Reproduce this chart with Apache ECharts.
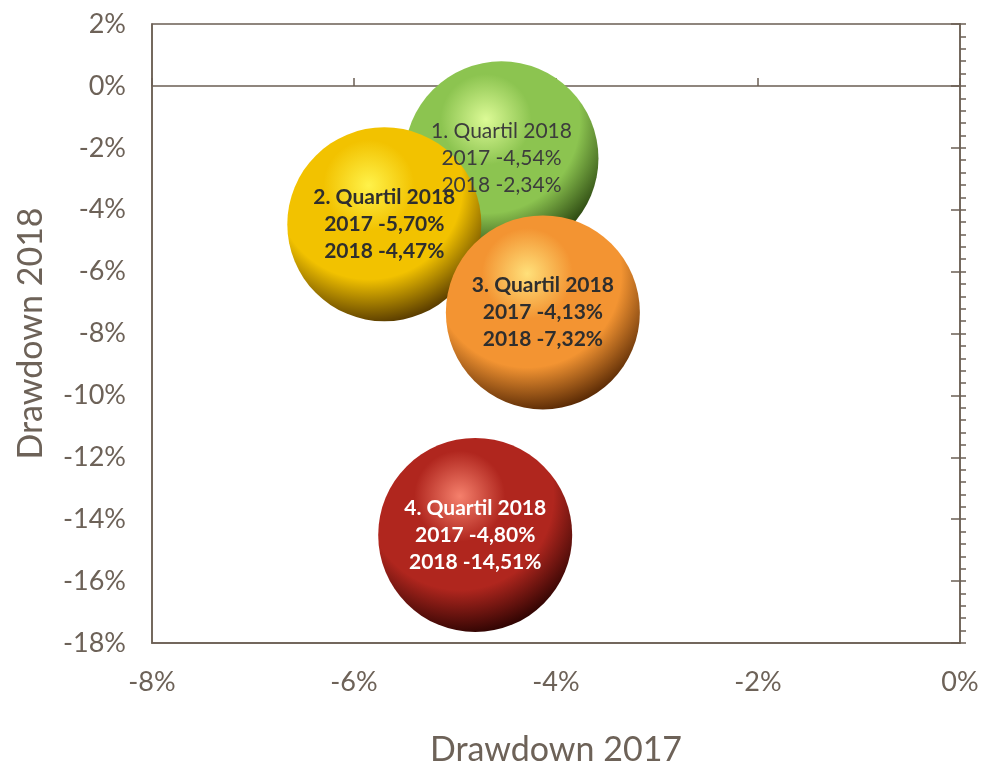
<!DOCTYPE html>
<html>
<head>
<meta charset="utf-8">
<script src="https://cdn.jsdelivr.net/npm/echarts@6/dist/echarts.min.js"></script>
<style>
  html, body { margin: 0; padding: 0; background: #ffffff; }
  #chart { width: 981px; height: 761px; }
</style>
</head>
<body>
<div id="chart"></div>
<script>
// Quartile groups with their drawdowns (percent)
const quartiles = ['1. Quartil 2018', '2. Quartil 2018', '3. Quartil 2018', '4. Quartil 2018'];
const drawdown2017 = [-4.54, -5.70, -4.13, -4.80];
const drawdown2018 = [-2.34, -4.47, -7.32, -14.51];

// Sphere shading per quartile: highlight, body, rim
const sphereColors = [
  ['#dcfa96', '#8cc450', '#243e0c'],
  ['#fff24a', '#f2c200', '#573a00'],
  ['#ffe07a', '#f39432', '#572804'],
  ['#f5806c', '#b0261e', '#2e0402']
];
const labelStyles = [
  { color: '#3c3c3c', fontWeight: 'normal' },
  { color: '#2e2e2e', fontWeight: 'bold' },
  { color: '#2e2e2e', fontWeight: 'bold' },
  { color: '#ffffff', fontWeight: 'bold' }
];

const axisColor = '#6b5f54';
const textColor = '#6d6258';
const fontFamily = 'Lato, "Open Sans", sans-serif';

function fmt(v) {
  return v.toFixed(2).replace('.', ',') + '%';
}

function sphere(c) {
  return {
    type: 'radial', x: 0.42, y: 0.3, r: 0.78,
    colorStops: [
      { offset: 0, color: c[0] },
      { offset: 0.3, color: c[1] },
      { offset: 0.62, color: c[1] },
      { offset: 0.92, color: c[2] },
      { offset: 1, color: c[2] }
    ]
  };
}

// all spheres share one z so every label sits above every sphere
const series = quartiles.map((name, i) => ({
  type: 'scatter',
  name: name,
  symbolSize: 194,
  z: 2,
  data: [[drawdown2017[i], drawdown2018[i]]],
  itemStyle: { color: sphere(sphereColors[i]), opacity: 1 },
  label: {
    show: true,
    position: 'inside',
    fontFamily: fontFamily,
    fontSize: 21,
    lineHeight: 27,
    color: labelStyles[i].color,
    fontWeight: labelStyles[i].fontWeight,
    formatter: () => name + '\n2017 ' + fmt(drawdown2017[i]) + '\n2018 ' + fmt(drawdown2018[i])
  },
  emphasis: { disabled: true }
}));

const chart = echarts.init(document.getElementById('chart'));
chart.setOption({
  animation: false,
  grid: {
    left: 152, right: 21, top: 24, bottom: 118,
    outerBoundsMode: 'none',
    show: true, borderColor: axisColor, borderWidth: 1.5, backgroundColor: 'transparent'
  },
  xAxis: [
    {
      type: 'value', min: -8, max: 0, interval: 2, position: 'bottom',
      axisLine: { show: true, onZero: false, lineStyle: { color: axisColor, width: 1.5 } },
      axisTick: { show: false },
      splitLine: { show: false },
      axisLabel: { color: textColor, fontFamily: fontFamily, fontSize: 27, margin: 26, formatter: v => v + '%' },
      name: 'Drawdown 2017', nameLocation: 'middle', nameGap: 90,
      nameTextStyle: { color: textColor, fontFamily: fontFamily, fontSize: 34 }
    },
    {
      // zero line across the plot with upward ticks
      type: 'value', min: -8, max: 0, interval: 2, position: 'bottom',
      axisLine: { show: true, onZero: true, onZeroAxisIndex: 0, lineStyle: { color: axisColor, width: 1.5 } },
      axisTick: { show: true, inside: true, length: 8, lineStyle: { color: axisColor, width: 1.5 } },
      splitLine: { show: false },
      axisLabel: { show: false }
    }
  ],
  yAxis: [
    {
      type: 'value', min: -18, max: 2, interval: 2, position: 'left',
      axisLine: { show: true, onZero: false, lineStyle: { color: axisColor, width: 1.5 } },
      axisTick: { show: false },
      splitLine: { show: false },
      axisLabel: { color: textColor, fontFamily: fontFamily, fontSize: 27, margin: 26, formatter: v => v + '%' },
      name: 'Drawdown 2018', nameLocation: 'middle', nameGap: 104, nameRotate: 90,
      nameTextStyle: { color: textColor, fontFamily: fontFamily, fontSize: 34 }
    },
    {
      // right border with outer major and minor ticks
      type: 'value', min: -18, max: 2, interval: 2, position: 'right',
      axisLine: { show: true, onZero: false, lineStyle: { color: axisColor, width: 1.5 } },
      axisTick: { show: true, inside: false, length: 6, lineStyle: { color: axisColor, width: 1.5 } },
      minorTick: { show: true, splitNumber: 5, length: 6, lineStyle: { color: axisColor, width: 1.5 } },
      splitLine: { show: false },
      minorSplitLine: { show: false },
      axisLabel: { show: false }
    },
    {
      // inner part of the right major ticks
      type: 'value', min: -18, max: 2, interval: 2, position: 'right',
      axisLine: { show: false, onZero: false },
      axisTick: { show: true, inside: true, length: 9, lineStyle: { color: axisColor, width: 1.5 } },
      splitLine: { show: false },
      axisLabel: { show: false }
    }
  ],
  series: series
});
</script>
</body>
</html>
